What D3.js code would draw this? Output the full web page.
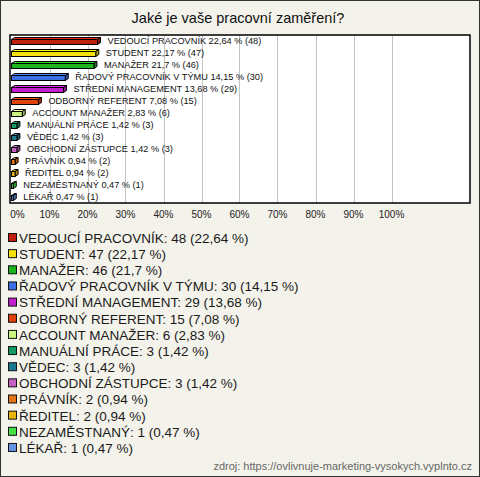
<!DOCTYPE html>
<html><head><meta charset="utf-8">
<script src="https://cdn.jsdelivr.net/npm/d3@7"></script>
<style>body{margin:0;background:#fff}svg{display:block}</style>
</head><body>
<script>
const categories = ["VEDOUCÍ PRACOVNÍK","STUDENT","MANAŽER","ŘADOVÝ PRACOVNÍK V TÝMU","STŘEDNÍ MANAGEMENT","ODBORNÝ REFERENT","ACCOUNT MANAŽER","MANUÁLNÍ PRÁCE","VĚDEC","OBCHODNÍ ZÁSTUPCE","PRÁVNÍK","ŘEDITEL","NEZAMĚSTNANÝ","LÉKAŘ"];
const counts = [48,47,46,30,29,15,6,3,3,3,2,2,1,1];
const percents = [22.64,22.17,21.7,14.15,13.68,7.08,2.83,1.42,1.42,1.42,0.94,0.94,0.47,0.47];
const colors = ["#c0200e","#f5e10a","#1db41d","#3b6fe6","#c21fd0","#e0420c","#c9f27e","#129a62","#197a92","#c462c4","#e27414","#e8b40c","#45e045","#6592e2"];
const tickValues = [0,10,20,30,40,50,60,70,80,90,100];
const title = "Jaké je vaše pracovní zaměření?";
const source = "zdroj: https://ovlivnuje-marketing-vysokych.vyplnto.cz";

const W = 480, H = 477;
const svg = d3.select("body").append("svg").attr("width", W).attr("height", H)
  .style("font-family", "Arial, 'Liberation Sans', sans-serif");
svg.append("rect").attr("x",0.5).attr("y",0.5).attr("width",W-1).attr("height",H-1)
  .attr("fill","#f4f3eb").attr("stroke","#333");

svg.append("text").attr("x",238).attr("y",23).attr("text-anchor","middle")
  .attr("font-size",14.5).attr("fill","#111").text(title);

const plot = {l:10, r:470, t:35, b:203};
const x = d3.scaleLinear().domain([0,100]).range([11.5,391.5]);
const y = d3.scaleBand().domain(categories).range([plot.t, plot.b]);

svg.append("rect").attr("x",plot.l).attr("y",plot.t).attr("width",plot.r-plot.l).attr("height",plot.b-plot.t)
  .attr("fill","#fff");
svg.append("g").selectAll("line").data(tickValues.filter(d=>d>0)).join("line")
  .attr("x1",d=>Math.round(x(d))+0.5).attr("x2",d=>Math.round(x(d))+0.5)
  .attr("y1",plot.t).attr("y2",plot.b).attr("stroke","#c4c4c4");

const data = categories.map((c,i)=>({c, n:counts[i], p:percents[i], col:colors[i]}));
const dx = 3, dy = 2, bh = 5;
const g = svg.append("g");
data.forEach(d=>{
  const cy = y(d.c) + y.bandwidth()/2;
  const x0 = x(0), x1 = x(d.p);
  const yt = cy - 1.5, yb = yt + bh;
  const c = d3.color(d.col);
  // top face
  g.append("path").attr("d",`M${x0},${yt}L${x0+dx},${yt-dy}L${x1+dx},${yt-dy}L${x1},${yt}Z`)
    .attr("fill",c.brighter(0.6)).attr("stroke","#000").attr("stroke-width",1);
  // side face
  g.append("path").attr("d",`M${x1},${yt}L${x1+dx},${yt-dy}L${x1+dx},${yb-dy}L${x1},${yb}Z`)
    .attr("fill",c.darker(0.8)).attr("stroke","#000").attr("stroke-width",1);
  // front
  g.append("rect").attr("x",x0).attr("y",yt).attr("width",Math.max(0,x1-x0)).attr("height",bh)
    .attr("fill",d.col).attr("stroke","#000").attr("stroke-width",1);
  g.append("text").attr("x",x1+dx+7).attr("y",cy).attr("dy","0.35em")
    .attr("font-size",9.2).attr("fill","#111")
    .text(`${d.c} ${String(d.p).replace(".",",")} % (${d.n})`);
});

svg.append("rect").attr("x",plot.l).attr("y",plot.t).attr("width",plot.r-plot.l).attr("height",plot.b-plot.t)
  .attr("fill","none").attr("stroke","#000").attr("stroke-width",1.5);

svg.append("g").selectAll("text").data(tickValues).join("text")
  .attr("x",d=>d===0? x(d)+6 : x(d)).attr("y",218).attr("text-anchor","middle")
  .attr("font-size",10).attr("fill","#222").text(d=>d+"%");

const lg = svg.append("g");
data.forEach((d,i)=>{
  const yy = 238 + i*16.15;
  lg.append("rect").attr("x",8.5).attr("y",yy-4.5).attr("width",8).attr("height",8)
    .attr("fill",d.col).attr("stroke","#111").attr("stroke-width",1);
  lg.append("text").attr("x",19).attr("y",yy).attr("dy","0.36em")
    .attr("font-size",13.5).attr("fill","#1a1a1a")
    .text(`${d.c}: ${d.n} (${String(d.p).replace(".",",")} %)`);
});

svg.append("text").attr("x",472).attr("y",470).attr("text-anchor","end")
  .attr("font-size",11).attr("fill","#666").text(source);
</script>
</body></html>
